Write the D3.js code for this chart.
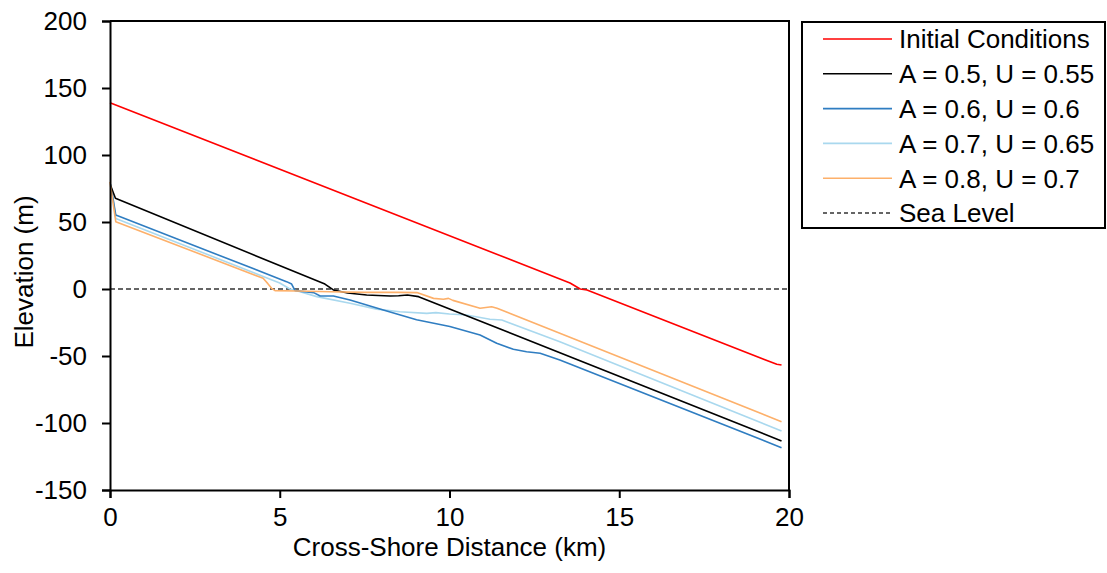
<!DOCTYPE html>
<html>
<head>
<meta charset="utf-8">
<script src="https://cdn.jsdelivr.net/npm/d3@7"></script>
<style>
  html, body { margin: 0; padding: 0; background: #fff; }
  svg { display: block; }
  text { font-family: "Liberation Sans", Arial, sans-serif; fill: #000; }
</style>
</head>
<body>
<svg id="chart" width="1107" height="573"></svg>
<script>
// ---- Data ----
const seriesNames = ["Initial Conditions", "A = 0.5, U = 0.55", "A = 0.6, U = 0.6", "A = 0.7, U = 0.65", "A = 0.8, U = 0.7", "Sea Level"];
const seriesColors = ["#ff0000", "#000000", "#2f7dc1", "#a9d8ee", "#fdb06a", "#333333"];

const initX = [0, 13.55, 13.85, 14.05, 19.64, 19.78];
const initY = [139, 4.5, 0, -0.8, -56.2, -56.7];

const a05X = [0.02, 0.16, 6.33, 6.58, 7.0, 7.56, 7.9, 8.25, 8.5, 8.76, 9.09, 19.78];
const a05Y = [77, 67.7, 3.7, -0.7, -3, -4.5, -4.8, -5.2, -5.0, -4.5, -5.7, -113.4];

const a06X = [0.02, 0.17, 5.2, 5.35, 5.45, 6.0, 6.19, 6.58, 7.07, 8.05, 9.03, 10.01, 10.9, 11.39, 11.88, 12.27, 12.67, 13.25, 19.78];
const a06Y = [78, 55.2, 5.5, 3.7, -1.2, -2.7, -5.2, -5.2, -8.2, -15.7, -23, -28, -34.3, -40.5, -45, -46.8, -48, -53, -118.4];

const a07X = [0.02, 0.17, 5.0, 5.3, 5.6, 6.09, 7.07, 7.85, 8.54, 9.33, 9.6, 10.0, 10.5, 11.19, 11.54, 13.25, 19.78];
const a07Y = [78, 52.7, 4.5, 0, -2, -5.7, -10.7, -15, -17, -18.2, -17.6, -18.7, -19.4, -22.6, -23.1, -39.3, -106];

const a08X = [0, 0.17, 4.51, 4.65, 4.76, 4.86, 5.5, 6.5, 7.5, 8.5, 9.04, 9.53, 9.82, 9.97, 10.1, 10.9, 11.24, 11.4, 13.25, 19.78];
const a08Y = [80, 50.2, 8, 4, 0.5, -1.2, -1.5, -2, -2.5, -2.5, -2.7, -7, -7.7, -7, -8.5, -14.4, -13.2, -14.4, -33, -99];

const seaX = [0, 20];
const seaY = [0, 0];

const xTicks = [0, 5, 10, 15, 20];
const yTicks = [-150, -100, -50, 0, 50, 100, 150, 200];

// ---- Layout ----
const svg = d3.select("#chart");
const pL = 110, pR = 789, pT = 21, pB = 490;
const x = d3.scaleLinear().domain([0, 20]).range([pL, pR]);
const y = d3.scaleLinear().domain([-150, 200]).range([pB, pT]);
const FS = 26;

// frame (top & right)
svg.append("path")
  .attr("d", `M${pL},${pT}H${pR}V${pB}`)
  .attr("fill", "none").attr("stroke", "#000").attr("stroke-width", 2);

const line = d3.line().x(d => x(d[0])).y(d => y(d[1]));
const zip = (xs, ys) => xs.map((v, i) => [v, ys[i]]);

const series = [
  zip(initX, initY), zip(a05X, a05Y), zip(a06X, a06Y),
  zip(a07X, a07Y), zip(a08X, a08Y)
];

// sea level
svg.append("path").datum(zip(seaX, seaY)).attr("d", line)
  .attr("fill", "none").attr("stroke", seriesColors[5]).attr("stroke-width", 1.3)
  .attr("stroke-dasharray", "5,3");

// draw order: initial, light blue, blue, black, orange
const order = [0, 3, 2, 1, 4];
order.forEach(i => {
  svg.append("path").datum(series[i]).attr("d", line)
    .attr("fill", "none").attr("stroke", seriesColors[i])
    .attr("stroke-width", 1.6).attr("stroke-linejoin", "round");
});

// axes
const fmt = d => String(d);
const xAxis = svg.append("g").attr("transform", `translate(0,${pB})`)
  .call(d3.axisBottom(x).tickValues(xTicks).tickSize(8).tickPadding(10).tickFormat(fmt));
const yAxis = svg.append("g").attr("transform", `translate(${pL},0)`)
  .call(d3.axisLeft(y).tickValues(yTicks).tickSize(8).tickPadding(15).tickFormat(fmt));
[xAxis, yAxis].forEach(g => {
  g.select(".domain").attr("stroke", "#000").attr("stroke-width", 2);
  g.selectAll(".tick line").attr("stroke", "#000").attr("stroke-width", 2);
  g.selectAll(".tick text").attr("font-size", FS).attr("font-family", '"Liberation Sans", Arial, sans-serif').attr("fill", "#000");
});
yAxis.selectAll(".tick text").attr("dy", "0.34em");
xAxis.selectAll(".tick text").attr("dy", "0.71em");

// axis titles
svg.append("text").attr("x", (pL + pR) / 2).attr("y", 556)
  .attr("text-anchor", "middle").attr("font-size", FS).text("Cross-Shore Distance (km)");
svg.append("text").attr("transform", "translate(33,272) rotate(-90)")
  .attr("text-anchor", "middle").attr("font-size", FS).text("Elevation (m)");

// legend
const lg = svg.append("g");
lg.append("rect").attr("x", 802).attr("y", 22).attr("width", 303).attr("height", 206)
  .attr("fill", "#fff").attr("stroke", "#000").attr("stroke-width", 2);
const rowY = d3.scaleLinear().domain([0, 5]).range([39, 213]);
seriesNames.forEach((name, i) => {
  const cy = rowY(i);
  lg.append("line").attr("x1", 823).attr("x2", 892).attr("y1", cy).attr("y2", cy)
    .attr("stroke", seriesColors[i]).attr("stroke-width", i === 5 ? 1.3 : 1.6)
    .attr("stroke-dasharray", i === 5 ? "4,3" : null);
  lg.append("text").attr("x", 899).attr("y", cy + 9.3).attr("font-size", FS).text(name);
});
</script>
</body>
</html>
